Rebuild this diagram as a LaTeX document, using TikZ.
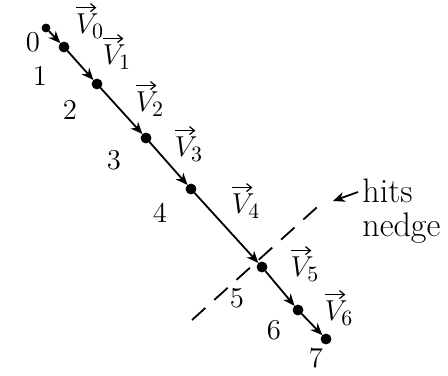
\documentclass[tikz,border=0pt]{standalone}
\usetikzlibrary{arrows.meta,calc}
\begin{document}
\begin{tikzpicture}[x=0.5pt,y=-0.5pt,
  pt/.style={circle,fill=black,draw=black,inner sep=0pt,minimum size=5pt},
  seg/.style={line width=0.9pt,-{Stealth[length=6pt,width=5pt]}},
  lab/.style={font=\fontsize{15}{18}\selectfont},
  vlab/.style={font=\fontsize{15}{18}\selectfont,inner sep=0pt},
  varrow/.style={line width=0.6pt,-{Straight Barb[length=2.5pt,width=4pt]}}]
\useasboundingbox (0,0) rectangle (448,375);
% points
\node[pt,minimum size=4pt] (p0) at (46,28) {};
\node[pt] (p1) at (64,47) {};
\node[pt] (p2) at (97,84) {};
\node[pt] (p3) at (146,138) {};
\node[pt] (p4) at (191,189) {};
\node[pt] (p5) at (262,267) {};
\node[pt] (p6) at (298,310) {};
\node[pt] (p7) at (326,339) {};
% segments
\draw[seg] (p0) -- (p1);
\draw[seg] (p1) -- (p2);
\draw[seg] (p2) -- (p3);
\draw[seg] (p3) -- (p4);
\draw[seg] (p4) -- (p5);
\draw[seg] (p5) -- (p6);
\draw[seg] (p6) -- (p7);
% point labels
\node[lab] (n0) at (33,42) {$0$};
\node[lab] (n1) at (40,76) {$1$};
\node[lab] (n2) at (70,110) {$2$};
\node[lab] (n3) at (114,160) {$3$};
\node[lab] (n4) at (160,213) {$4$};
\node[lab] (n5) at (237,298) {$5$};
\node[lab] (n6) at (274,330) {$6$};
\node[lab] (n7) at (316,358) {$7$};
% velocity labels
\node[vlab] (v0) at (90,26) {$V_0$};
\node[vlab] (v1) at (117,57) {$V_1$};
\node[vlab] (v2) at (150,104) {$V_2$};
\node[vlab] (v3) at (189,149) {$V_3$};
\node[vlab] (v4) at (246,206) {$V_4$};
\node[vlab] (v5) at (305,269) {$V_5$};
\node[vlab] (v6) at (339,313) {$V_6$};
\foreach \v in {v0,v1,v2,v3,v4,v5,v6}
  \draw[varrow] ($(\v.north west)+(1,-6)$) -- ++(20,0);
% hedge
\coordinate (h1) at (192,320);
\coordinate (h2) at (325,200);
\draw[line width=0.9pt,dash pattern=on 9pt off 6pt] (h1) -- (h2);
\node[font=\fontsize{17}{17}\selectfont,align=left,anchor=north west,inner sep=0pt] (txt) at (362,178) {hits\\nedge};
\coordinate (a1) at (333,201);
\draw[line width=0.9pt,-{Stealth[length=6pt,width=5pt]}] ([xshift=-2pt,yshift=-7pt]txt.north west) -- (a1);
\end{tikzpicture}
\end{document}
